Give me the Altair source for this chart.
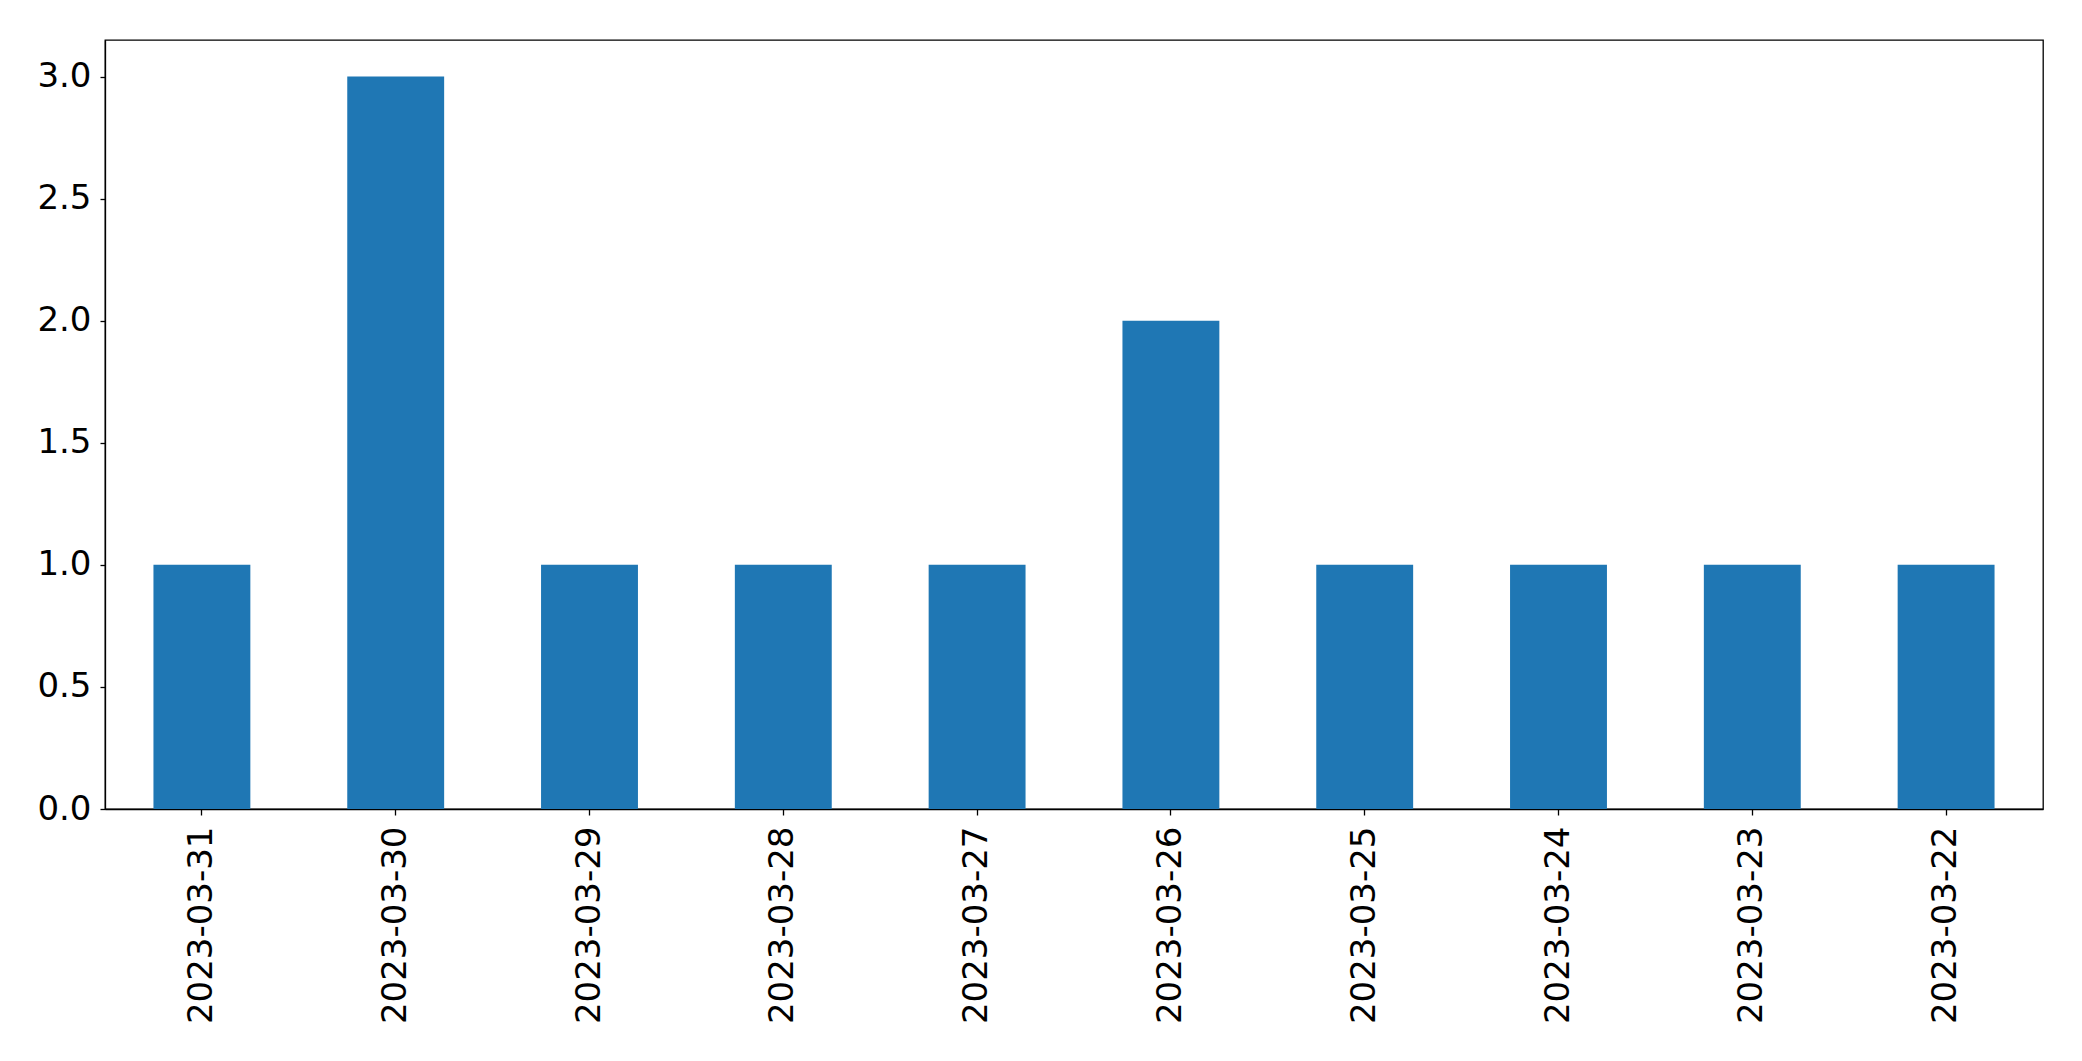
import altair as alt
import pandas as pd

dates = ["2023-03-31", "2023-03-30", "2023-03-29", "2023-03-28", "2023-03-27",
         "2023-03-26", "2023-03-25", "2023-03-24", "2023-03-23", "2023-03-22"]
counts = [1, 3, 1, 1, 1, 2, 1, 1, 1, 1]
y_ticks = [0.0, 0.5, 1.0, 1.5, 2.0, 2.5, 3.0]

df = pd.DataFrame({"date": dates, "count": counts})

chart = alt.Chart(df).mark_bar(color="#1f77b4").encode(
    x=alt.X("date:N", sort=None, title=None,
            scale=alt.Scale(paddingInner=0.5, paddingOuter=0.25),
            axis=alt.Axis(labelAngle=-90, labelFontSize=34, labelFont="DejaVu Sans",
                          labelColor="black", tickColor="black", tickSize=6,
                          labelPadding=11, labelLimit=0, domainColor="black",
                          grid=False)),
    y=alt.Y("count:Q", title=None,
            scale=alt.Scale(domain=[0, 3.15], nice=False, zero=True),
            axis=alt.Axis(values=y_ticks, format=".1f", labelFontSize=34,
                          labelFont="DejaVu Sans", labelColor="black",
                          tickColor="black", tickSize=5, labelPadding=9,
                          domainColor="black", grid=False)),
).properties(
    width=1938, height=769,
    autosize=alt.AutoSizeParams(type="none"),
    padding={"left": 97, "top": 32, "right": 30, "bottom": 240},
).configure_view(
    stroke="black", strokeWidth=1.3
).configure_axis(
    domainWidth=1.3, tickWidth=1.3
)

chart.save("out.html", embed_options={"renderer": "svg", "actions": False})
